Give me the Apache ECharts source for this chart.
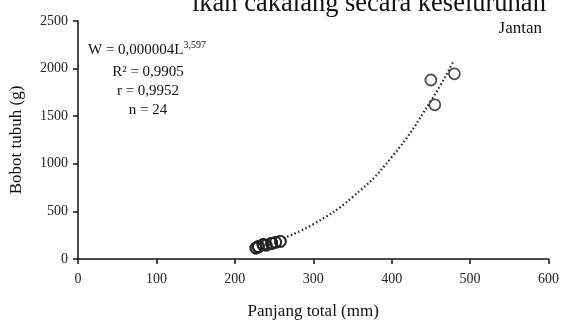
<!DOCTYPE html>
<html>
<head>
<meta charset="utf-8">
<script src="https://cdn.jsdelivr.net/npm/echarts@6/dist/echarts.min.js"></script>
<style>
  html, body { margin: 0; padding: 0; background: #fff; }
  #main { width: 562px; height: 325px; }
</style>
</head>
<body>
<div id="main"></div>
<script>
// panjang total (mm) vs bobot tubuh (g), ikan jantan (n = 24, many overlap)
const lengthMm = [227, 227, 227, 230, 230, 230, 230, 236, 236, 236, 236, 240,
  240, 247, 247, 247, 247, 252, 252, 258, 258, 450, 455, 480]
const weightG = [115, 115, 115, 130, 130, 130, 130, 150, 150, 150, 150, 145,
  145, 165, 165, 165, 165, 175, 175, 185, 185, 1880, 1620, 1945]
// dotted trend line
const trendL = [262, 300, 350, 400, 450, 478]
const trendW = [220, 365, 650, 1070, 1660, 2065]
const xTicks = [0, 100, 200, 300, 400, 500, 600]
const yTicks = [0, 500, 1000, 1500, 2000, 2500]
const statLines = ['R² = 0,9905', 'r = 0,9952', 'n = 24']

const serif = '"Liberation Serif", "DejaVu Serif", serif'
const myChart = echarts.init(document.getElementById('main'))

const points = lengthMm.map((l, i) => [l, weightG[i]])
const trend = trendL.map((l, i) => [l, trendW[i]])

const option = {
  animation: false,
  grid: { left: 77, right: 13, top: 21, bottom: 57 },
  xAxis: {
    type: 'value',
    min: xTicks[0],
    max: xTicks[xTicks.length - 1],
    interval: 100,
    name: 'Panjang total (mm)',
    nameLocation: 'middle',
    nameGap: 44,
    nameTextStyle: { fontFamily: serif, fontSize: 17, color: '#111' },
    axisLine: { lineStyle: { color: '#111', width: 1.5 } },
    axisTick: { length: 5, lineStyle: { color: '#111', width: 1.5 } },
    axisLabel: { fontFamily: serif, fontSize: 14, color: '#222', margin: 13, formatter: v => String(v) },
    splitLine: { show: false }
  },
  yAxis: {
    type: 'value',
    min: yTicks[0],
    max: yTicks[yTicks.length - 1],
    interval: 500,
    name: 'Bobot tubuh (g)',
    nameLocation: 'middle',
    nameGap: 53,
    nameTextStyle: { fontFamily: serif, fontSize: 17, color: '#111' },
    axisLine: { show: true, lineStyle: { color: '#111', width: 1.5 } },
    axisTick: { show: true, length: 5, lineStyle: { color: '#111', width: 1.5 } },
    axisLabel: { fontFamily: serif, fontSize: 14, color: '#222', margin: 10, formatter: v => String(v) },
    splitLine: { show: false }
  },
  graphic: [
    {
      type: 'text',
      left: 192,
      top: -9,
      style: { text: 'ikan cakalang secara keseluruhan', font: '26.5px ' + serif, fill: '#111' }
    },
    {
      type: 'text',
      right: 20,
      top: 20,
      style: { text: 'Jantan', font: '17px ' + serif, fill: '#111' }
    },
    {
      type: 'text',
      left: 88,
      top: 40,
      style: {
        text: '{b|W = 0,000004L}{s|3,597}',
        rich: {
          b: { font: '15px ' + serif, fill: '#111', verticalAlign: 'bottom' },
          s: { font: '10px ' + serif, fill: '#111', verticalAlign: 'top', padding: [0, 0, 8, 0] }
        }
      }
    },
    ...statLines.map((t, i) => ({
      type: 'text',
      x: 148,
      y: 72 + i * 19,
      style: { text: t, font: '15px ' + serif, fill: '#111', align: 'center', verticalAlign: 'middle' }
    }))
  ],
  series: [
    {
      name: 'trend',
      type: 'line',
      data: trend,
      smooth: true,
      symbol: 'none',
      lineStyle: { color: '#222', width: 2.2, type: [1.5, 2.5] },
      z: 1
    },
    {
      name: 'Jantan',
      type: 'scatter',
      data: points,
      symbol: 'circle',
      symbolSize: 11,
      itemStyle: { color: 'rgba(255,255,255,0)', borderColor: '#222', borderWidth: 1.8 },
      z: 2
    }
  ]
}
myChart.setOption(option)
</script>
</body>
</html>
